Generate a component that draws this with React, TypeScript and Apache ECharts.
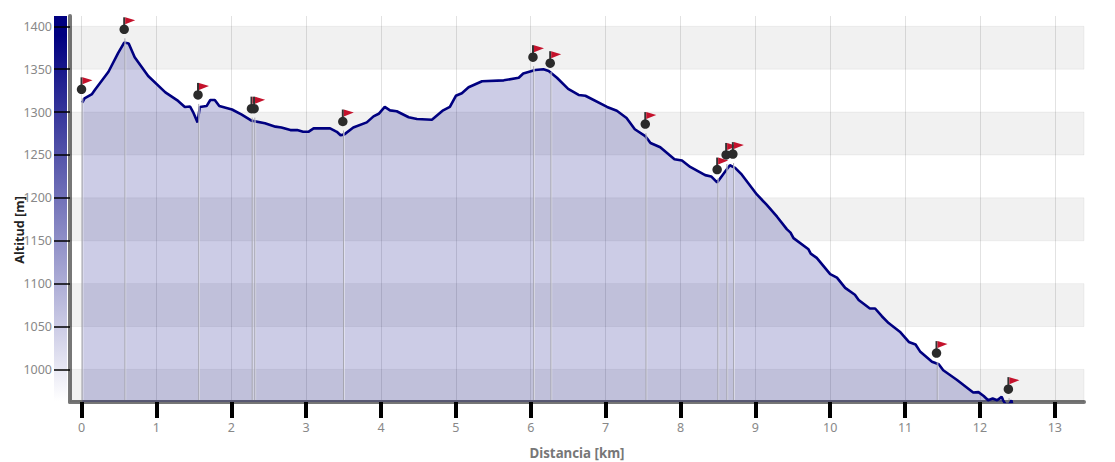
import React, { useEffect, useRef } from "react";
import * as echarts from "echarts";

const profileKm = [0.01,0.04,0.14,0.18,0.36,0.49,0.57,0.63,0.71,0.89,1.12,1.29,1.38,1.45,1.49,1.55,1.58,1.67,1.72,1.78,1.84,2.01,2.14,2.27,2.45,2.59,2.67,2.79,2.88,2.96,3.03,3.10,3.32,3.41,3.46,3.51,3.63,3.81,3.90,3.97,4.05,4.12,4.21,4.37,4.48,4.68,4.83,4.92,5.00,5.08,5.17,5.35,5.64,5.84,5.90,6.06,6.17,6.24,6.35,6.50,6.64,6.73,7.02,7.15,7.28,7.39,7.53,7.60,7.73,7.92,8.02,8.13,8.33,8.41,8.49,8.60,8.66,8.73,8.82,9.02,9.15,9.29,9.42,9.47,9.51,9.71,9.74,9.82,10.0,10.09,10.20,10.33,10.38,10.53,10.60,10.69,10.78,10.93,11.05,11.14,11.20,11.36,11.45,11.51,11.69,11.91,11.98,12.05,12.11,12.17,12.23,12.29,12.31,12.35,12.40,12.42,12.43];
const profileAlt = [1311,1316,1321,1326,1347,1369,1381,1380,1364,1342,1323,1313,1306,1306.5,1300,1288,1306,1307,1314,1314,1307,1303,1297,1290,1287,1283,1282,1279,1279,1277,1277,1281,1281,1277,1273,1274,1282,1288,1295,1298,1306,1302,1301,1294,1292,1291,1302,1306,1319,1322,1329,1336,1337,1340,1345,1349,1350,1348,1340,1327,1320,1319,1306,1301.5,1293,1280,1272,1264,1259,1245,1243.5,1236,1226.5,1225,1218,1231,1238,1235,1227,1204,1192,1178,1163.5,1159.5,1153,1140,1135,1130,1111,1107,1095,1087,1081,1071,1071,1062,1054,1044,1032,1029,1021,1009,1006,999,988,973,973.5,969,964,966,964,968,964,958,960,964,960];

const waypointKm = [0,0.57,1.556,2.27,2.305,3.49,6.03,6.26,7.53,8.49,8.61,8.70,11.42,12.38];
const waypointAlt = [1326.5,1396.5,1320,1304,1304,1289,1364,1357,1286,1233,1250,1251,1019,977];

const xTicks = [0,1,2,3,4,5,6,7,8,9,10,11,12,13];
const yTicks = [1000,1050,1100,1150,1200,1250,1300,1350,1400];
const bandLow = [1350,1250,1150,1050,962];
const bandHigh = [1400,1300,1200,1100,1000];

const font = "'Noto Sans', sans-serif";
const X_MIN = -0.154, X_MAX = 13.39, Y_MIN = 962, Y_MAX = 1412;

export default function App() {
  const ref = useRef<HTMLDivElement>(null);
  useEffect(() => {
    document.body.style.margin = "0";
    const chart = echarts.init(ref.current!, undefined, { renderer: "svg", width: 1115, height: 462 });
    const wp = waypointKm.map((k, i) => [k, waypointAlt[i]]);
    chart.setOption({
      animation: false,
      backgroundColor: "#fff",
      grid: { left: 70, top: 16, width: 1014, height: 386, outerBoundsMode: "none" },
      graphic: [
        {
          type: "rect", z: -1, silent: true,
          shape: { x: 54, y: 16, width: 13, height: 385 },
          style: {
            fill: new echarts.graphic.LinearGradient(0, 0, 0, 1, [
              { offset: 0, color: "#000080" },
              { offset: 0.05, color: "#000080" },
              { offset: 1, color: "#ffffff" },
            ]),
          },
        },
        {
          type: "text", x: 19, y: 230, rotation: Math.PI / 2, z: 5, silent: true,
          style: {
            text: "Altitud [m]", x: 0, y: 0, align: "center", verticalAlign: "middle",
            font: "bold 12.7px " + font, fill: "#222",
          },
        },
      ],
      xAxis: {
        type: "value", min: X_MIN, max: X_MAX,
        name: "Distancia [km]", nameLocation: "middle", nameGap: 44,
        nameTextStyle: { color: "#777", fontFamily: font, fontWeight: "bold", fontSize: 13.3 },
        axisLine: { show: true, onZero: false, lineStyle: { color: "#777", width: 4 } },
        axisTick: { show: true, length: 16, lineStyle: { color: "#000", width: 4 }, customValues: xTicks },
        axisLabel: { color: "#888", fontFamily: font, fontSize: 12.5, margin: 19, customValues: xTicks },
        splitLine: { show: true, lineStyle: { color: "#e2e2e2", width: 1 } },
        interval: 1,
      },
      yAxis: {
        type: "value", min: Y_MIN, max: Y_MAX,
        axisLine: { show: true, onZero: false, lineStyle: { color: "#777", width: 4 } },
        axisTick: { show: true, length: 16, lineStyle: { color: "#000", width: 1.5 }, customValues: yTicks },
        axisLabel: { color: "#888", fontFamily: font, fontSize: 12.5, margin: 18, customValues: yTicks, formatter: (v: number) => String(v) },
        splitLine: { show: false },
      },
      series: [
        {
          type: "line",
          data: profileKm.map((k, i) => [k, profileAlt[i]]),
          showSymbol: false, symbol: "none",
          lineStyle: { color: "#000080", width: 2.6 },
          areaStyle: { color: "rgba(0,0,128,0.2)", opacity: 1 },
          silent: true,
          z: 3,
          markArea: {
            silent: true, z: 1,
            itemStyle: { color: "rgba(0,0,0,0.055)", borderColor: "rgba(0,0,0,0.05)", borderWidth: 1 },
            data: bandLow.map((l, i) => [{ yAxis: l, xAxis: X_MIN }, { yAxis: bandHigh[i], xAxis: X_MAX }]),
          },
        },
        {
          type: "custom", z: 4, silent: true,
          data: wp,
          renderItem: (_p: any, api: any) => {
            const c = api.coord([api.value(0), api.value(1)]);
            const b = api.coord([api.value(0), Y_MIN]);
            return {
              type: "group",
              children: [
                { type: "line", shape: { x1: c[0] + 1.5, y1: c[1] + 9, x2: c[0] + 1.5, y2: b[1] - 2 }, style: { stroke: "rgba(255,255,255,0.5)", lineWidth: 1 } },
                { type: "line", shape: { x1: c[0] + 0.7, y1: c[1] + 9, x2: c[0] + 0.7, y2: b[1] - 2 }, style: { stroke: "#a6a6b0", lineWidth: 1 } },
              ],
            };
          },
        },
        {
          type: "custom", z: 5, silent: true,
          data: wp,
          renderItem: (_p: any, api: any) => {
            const c = api.coord([api.value(0), api.value(1)]);
            return {
              type: "group",
              children: [
                { type: "line", shape: { x1: c[0], y1: c[1] - 12, x2: c[0], y2: c[1] }, style: { stroke: "#333", lineWidth: 2 } },
                { type: "polygon", shape: { points: [[c[0] + 1, c[1] - 12], [c[0] + 11, c[1] - 9], [c[0] + 1, c[1] - 5]] }, style: { fill: "#c4122c" } },
              ],
            };
          },
        },
        {
          type: "scatter", z: 6, silent: true,
          data: wp, symbol: "circle", symbolSize: 9.5,
          itemStyle: { color: "#2b2b2b", opacity: 1 },
        },
      ],
    });
    return () => chart.dispose();
  }, []);
  return <div ref={ref} style={{ position: "absolute", left: 0, top: 0, width: 1115, height: 462 }} />;
}
